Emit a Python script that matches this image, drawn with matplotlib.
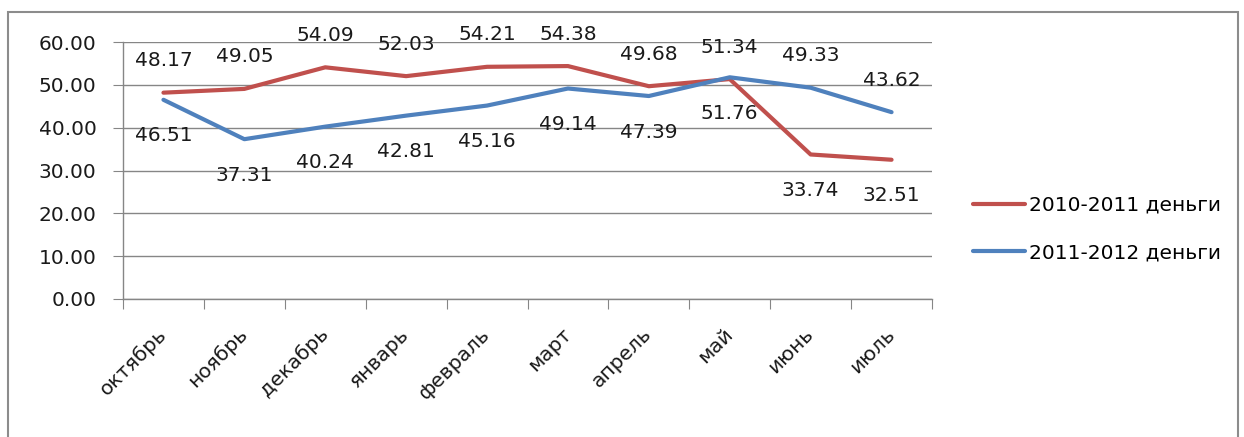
import numpy as np
import matplotlib
matplotlib.use("Agg")
import matplotlib.pyplot as plt
from matplotlib.patches import Rectangle

months = ["октябрь", "ноябрь", "декабрь", "январь", "февраль",
          "март", "апрель", "май", "июнь", "июль"]
money_2010_2011 = [48.17, 49.05, 54.09, 52.03, 54.21, 54.38, 49.68, 51.34, 33.74, 32.51]
money_2011_2012 = [46.51, 37.31, 40.24, 42.81, 45.16, 49.14, 47.39, 51.76, 49.33, 43.62]
series_names = ["2010-2011 деньги", "2011-2012 деньги"]
# data label position for each point: 1 = above, -1 = below
pos_2010_2011 = [1, 1, 1, 1, 1, 1, 1, 1, -1, -1]
pos_2011_2012 = [-1, -1, -1, -1, -1, -1, -1, -1, 1, 1]

red = "#C0504D"
blue = "#4F81BD"
grid_col = "#868686"
txt_col = "#1a1a1a"
fs = 14.5

plt.rcParams['font.family'] = ['DejaVu Sans']

fig = plt.figure(figsize=(12.44, 4.37), dpi=100)
# outer chart frame
fig.patches.append(Rectangle((8 / 1244, -0.05), 1230 / 1244, 1.05 - 12 / 437,
                             transform=fig.transFigure, fill=False,
                             edgecolor="#8c8c8c", linewidth=1.5))

ax = fig.add_axes([123 / 1244, 1 - 299 / 437, (932 - 123) / 1244, (299 - 42) / 437])

x = np.arange(len(months))
l1, = ax.plot(x, money_2010_2011, color=red, linewidth=3, solid_capstyle="round",
              label=series_names[0], zorder=3)
l2, = ax.plot(x, money_2011_2012, color=blue, linewidth=3, solid_capstyle="round",
              label=series_names[1], zorder=3)


def put_labels(vals, where):
    for xi, v, p in zip(x, vals, where):
        dy = 23 if p > 0 else -26
        ax.annotate(f"{v:.2f}", (xi, v), xytext=(0, dy), textcoords="offset points",
                    ha="center", va="center", fontsize=fs, color=txt_col,
                    annotation_clip=False)


put_labels(money_2010_2011, pos_2010_2011)
put_labels(money_2011_2012, pos_2011_2012)

ax.set_xlim(-0.5, len(months) - 0.5)
ax.set_ylim(0, 60)
ax.set_yticks(np.arange(0, 61, 10))
ax.set_yticklabels([f"{v:.2f}" for v in np.arange(0, 61, 10)], fontsize=fs, color=txt_col)
ax.yaxis.grid(True, color=grid_col, linewidth=1)
ax.set_axisbelow(True)

# tick marks at category boundaries, labels at centres
ax.set_xticks(np.arange(-0.5, len(months), 1.0))
ax.set_xticklabels([])
ax.set_xticks(x, minor=True)
ax.set_xticklabels(months, minor=True, rotation=45, ha="right", va="center",
                   rotation_mode="anchor", fontsize=fs, color=txt_col)
ax.tick_params(axis="x", which="major", length=7, color=grid_col, direction="out")
ax.tick_params(axis="x", which="minor", length=0, pad=23)
ax.tick_params(axis="y", length=7, color=grid_col, pad=12)

for s in ["top", "right"]:
    ax.spines[s].set_visible(False)
for s in ["left", "bottom"]:
    ax.spines[s].set_color(grid_col)
    ax.spines[s].set_linewidth(1)

leg = fig.legend(handles=[l1, l2], loc="center left", bbox_to_anchor=(955 / 1244, 1 - 229 / 437),
                 frameon=False, fontsize=fs, handlelength=2.6, handletextpad=0.15,
                 labelspacing=1.4)
for h in leg.legend_handles:
    h.set_solid_capstyle("round")

fig.savefig("out.png", dpi=100)
